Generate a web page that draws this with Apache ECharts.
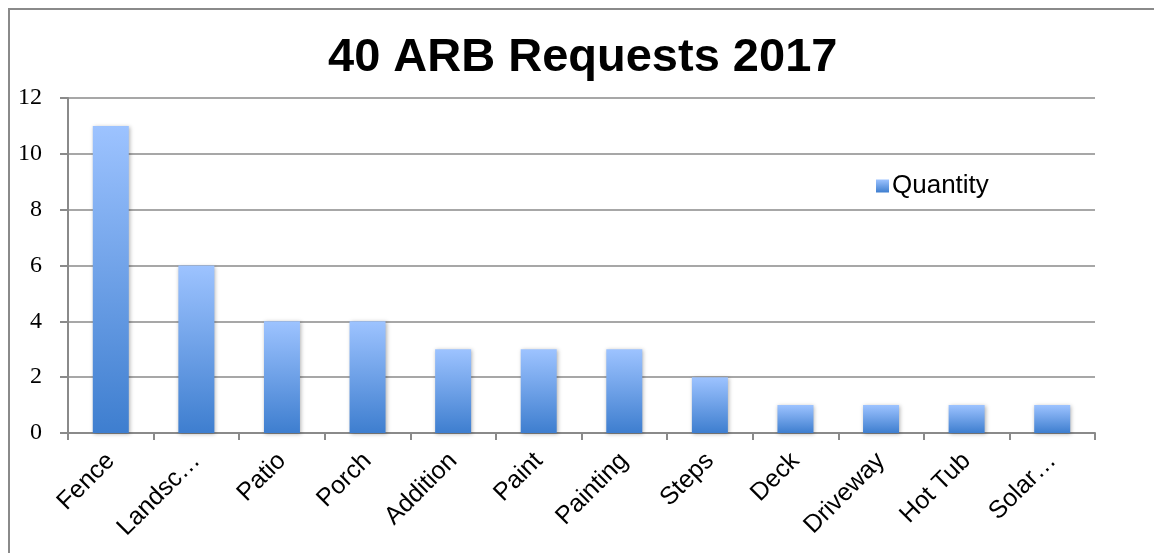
<!DOCTYPE html>
<html>
<head>
<meta charset="utf-8">
<script src="https://cdn.jsdelivr.net/npm/echarts@6/dist/echarts.min.js"></script>
<style>
html,body{margin:0;padding:0;background:#fff;}
#chart{width:1154px;height:553px;}
</style>
</head>
<body>
<div id="chart"></div>
<script>
const categories = ["Fence","Landsc…","Patio","Porch","Addition","Paint","Painting","Steps","Deck","Driveway","Hot Tub","Solar…"];
const quantity = [11,6,4,4,3,3,3,2,1,1,1,1];
const yTicks = [0,2,4,6,8,10,12];

const chart = echarts.init(document.getElementById('chart'));
const barColor = new echarts.graphic.LinearGradient(0,0,0,1,[
  {offset:0,color:'#9dc3ff'},
  {offset:1,color:'#3e7ecf'}
]);
chart.setOption({
  animation:false,
  backgroundColor:'#fff',
  title:{
    text:'40 ARB Requests 2017',
    left:323,
    top:30,
    textStyle:{fontFamily:'Liberation Sans, Arial',fontWeight:'bold',fontSize:47,color:'#000'}
  },
  legend:{
    data:['Quantity'],
    left:871,
    top:168,
    itemWidth:13,
    itemHeight:13,
    itemGap:6,
    icon:'rect',
    textStyle:{fontFamily:'Liberation Sans, Arial',fontSize:26,color:'#000',padding:[0,0,0,-2]}
  },
  grid:{left:68,right:59,top:98,bottom:120,containLabel:false},
  xAxis:{
    type:'category',
    data:categories,
    axisLine:{lineStyle:{color:'#8a8a8a',width:2}},
    axisTick:{show:true,length:7,lineStyle:{color:'#8a8a8a',width:2},alignWithLabel:false},
    axisLabel:{rotate:45,fontFamily:'Liberation Sans, Arial',fontSize:25,color:'#000',margin:24,interval:0}
  },
  yAxis:{
    type:'value',
    min:yTicks[0],
    max:yTicks[yTicks.length-1],
    interval:2,
    axisLine:{show:true,lineStyle:{color:'#8a8a8a',width:2}},
    axisTick:{show:true,length:8,lineStyle:{color:'#8a8a8a',width:2}},
    splitLine:{lineStyle:{color:'#8a8a8a',width:1.5}},
    axisLabel:{fontFamily:'Liberation Serif, DejaVu Serif',fontSize:24,color:'#000',margin:26}
  },
  series:[{
    name:'Quantity',
    type:'bar',
    data:quantity,
    barWidth:36,
    itemStyle:{color:barColor,shadowBlur:4,shadowColor:'rgba(0,0,0,0.3)',shadowOffsetX:1,shadowOffsetY:1}
  }],
  graphic:[{
    type:'polyline',
    shape:{points:[[9,553],[9,9],[1154,9]]},
    style:{stroke:'#8a8a8a',lineWidth:2,fill:null}
  }]
});
</script>
</body>
</html>
